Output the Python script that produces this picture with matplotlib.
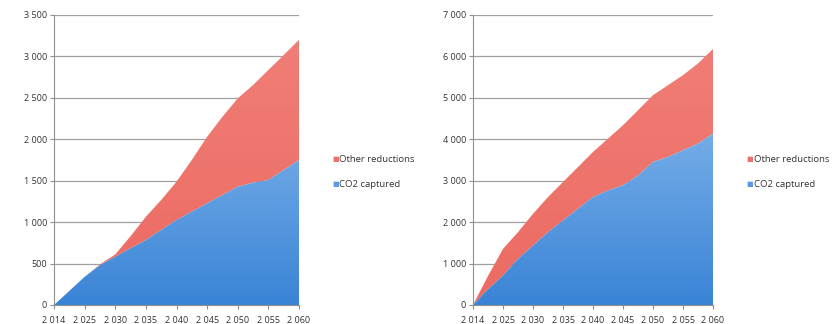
import numpy as np
import matplotlib
matplotlib.use("Agg")
import matplotlib.pyplot as plt
from matplotlib.colors import LinearSegmentedColormap

plt.rcParams['font.family'] = ['Open Sans', 'DejaVu Sans']

# category labels (evenly spaced on the axis), data sampled at half steps
years = ['2 014', '2 025', '2 030', '2 035', '2 040', '2 045', '2 050', '2 055', '2 060']
steps = np.arange(0, 8.5, 0.5)

# left chart
left_total = [0, 170, 340, 490, 610, 830, 1065, 1267, 1488, 1750, 2030, 2272, 2494, 2655, 2836, 3017, 3200]
left_co2 = [0, 170, 340, 480, 583, 684, 784, 905, 1026, 1126, 1227, 1327, 1428, 1476, 1508, 1629, 1750]

# right chart
right_total = [0, 700, 1355, 1758, 2200, 2605, 2968, 3330, 3694, 4016, 4339, 4702, 5065, 5306, 5548, 5830, 6180]
right_co2 = [0, 380, 710, 1113, 1435, 1758, 2040, 2323, 2605, 2766, 2887, 3129, 3452, 3573, 3734, 3895, 4137]

red = '#ee7169'
blue_cmap = LinearSegmentedColormap.from_list('b', ['#3a84d6', '#9cc8f4'])
red_cmap = LinearSegmentedColormap.from_list('r', ['#ec6a62', '#f08078'])


def grad_fill(ax, x, y0, y1, cmap, ymax):
    poly = ax.fill_between(x, y0, y1, facecolor='none', edgecolor='none')
    grad = np.linspace(0, 1, 256).reshape(-1, 1)
    im = ax.imshow(grad, cmap=cmap, aspect='auto', origin='lower',
                   extent=[x[0], x[-1], 0, ymax], zorder=2)
    im.set_clip_path(poly.get_paths()[0], transform=ax.transData)


def draw(ax, total, co2, ymax, step, leg_x):
    x = steps
    total = np.array(total)
    co2 = np.array(co2)
    grad_fill(ax, x, co2, total, red_cmap, ymax)
    grad_fill(ax, x, 0, co2, blue_cmap, ymax)
    ax.set_xlim(0, 8)
    ax.set_ylim(0, ymax)
    ax.set_xticks(range(len(years)))
    ax.set_xticklabels(years)
    yt = np.arange(0, ymax + 1, step)
    ax.set_yticks(yt)
    ax.set_yticklabels([f'{int(v):,}'.replace(',', ' ') for v in yt])
    ax.yaxis.grid(True, color='#a0a0a0', linewidth=0.9)
    ax.set_axisbelow(True)
    for s in ['top', 'right']:
        ax.spines[s].set_visible(False)
    for s in ['left', 'bottom']:
        ax.spines[s].set_color('#909090')
    ax.tick_params(axis='both', labelsize=6.5, colors='#909090', labelcolor='#333333',
                   length=3, width=0.8, pad=2)
    ax.tick_params(axis='x', pad=5)
    # legend swatches
    ax.text(leg_x, 0.50, '■', color=red, fontsize=5, transform=ax.transAxes, va='center')
    ax.text(leg_x + 0.03, 0.50, 'Other reductions', color='#333333', fontsize=6.8,
            transform=ax.transAxes, va='center')
    ax.text(leg_x, 0.415, '■', color='#5a9ae0', fontsize=5, transform=ax.transAxes, va='center')
    ax.text(leg_x + 0.03, 0.415, 'CO2 captured', color='#333333', fontsize=6.8,
            transform=ax.transAxes, va='center')


fig = plt.figure(figsize=(8.4, 3.24), dpi=100)
ax1 = fig.add_axes([54 / 840, 19 / 324, 245 / 840, 290 / 324])
ax2 = fig.add_axes([473 / 840, 19 / 324, 240 / 840, 290 / 324])
draw(ax1, left_total, left_co2, 3500, 500, 1.135)
draw(ax2, right_total, right_co2, 7000, 1000, 1.14)

fig.savefig('out.png', dpi=100)
